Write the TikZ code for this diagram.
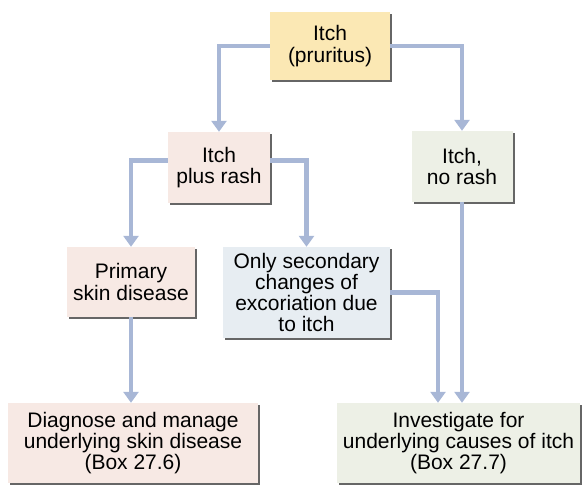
\documentclass[tikz,border=0pt]{standalone}
\usepackage{fontspec}
\setmainfont{Liberation Sans}
\usepackage{xcolor}
\usepackage{tikz}
\usetikzlibrary{arrows.meta,positioning,calc,shadows}

\definecolor{itchyellow}{HTML}{FBE8B4}
\definecolor{rashpink}{HTML}{F7E9E4}
\definecolor{norashgreen}{HTML}{EDF0E6}
\definecolor{secblue}{HTML}{E7EDF2}
\definecolor{flowblue}{HTML}{A8B7D6}

\begin{document}
\begin{tikzpicture}[x=1pt, y=-1pt,
  block/.style={inner sep=1pt, align=center, font=\fontsize{21}{21.3}\selectfont,
    drop shadow={shadow xshift=2pt, shadow yshift=-2pt, fill=black!60, opacity=1}},
  yellowblock/.style={block, fill=itchyellow},
  pinkblock/.style={block, fill=rashpink},
  greenblock/.style={block, fill=norashgreen},
  blueblock/.style={block, fill=secblue},
  arrow/.style={draw=flowblue, line width=4.5pt, line join=miter,
    -{Triangle[width=15pt, length=11pt]}}
]
  \useasboundingbox (0,0) rectangle (585,485);

  % Top
  \node[yellowblock, minimum width=120, minimum height=68] (itch) at (330, 46) {Itch\\(pruritus)};

  % Second row
  \node[pinkblock, minimum width=102, minimum height=71] (rash) at (219, 167.5) {Itch\\plus rash};
  \node[greenblock, minimum width=101, minimum height=71] (norash) at (462, 166.5) {Itch,\\no rash};

  % Third row
  \node[pinkblock, minimum width=128, minimum height=70] (primary) at (131, 282) {Primary\\skin disease};
  \node[blueblock, minimum width=167, minimum height=91] (second) at (306.5, 292.5) {Only secondary\\changes of\\excoriation due\\to itch};

  % Outcomes
  \node[pinkblock, minimum width=250, minimum height=80] (diag) at (133, 443) {Diagnose and manage\\underlying skin disease\\(Box 27.6)};
  \node[greenblock, minimum width=243, minimum height=80] (invest) at (458.5, 443) {Investigate for\\underlying causes of itch\\(Box 27.7)};

  % Connectors
  \draw[arrow] (itch.west) -| (rash.north);
  \draw[arrow] (itch.east) -| (norash.north);
  \draw[arrow] ([yshift=7pt]rash.west) -| (primary.north);
  \draw[arrow] ([yshift=7pt]rash.east) -| (second.north);
  \draw[arrow] (primary.south) -- (primary.south |- diag.north);
  \draw[arrow] (second.east) -| ([xshift=-20.5pt]invest.north);
  \draw[arrow] (norash.south) -- (norash.south |- invest.north);
\end{tikzpicture}
\end{document}
